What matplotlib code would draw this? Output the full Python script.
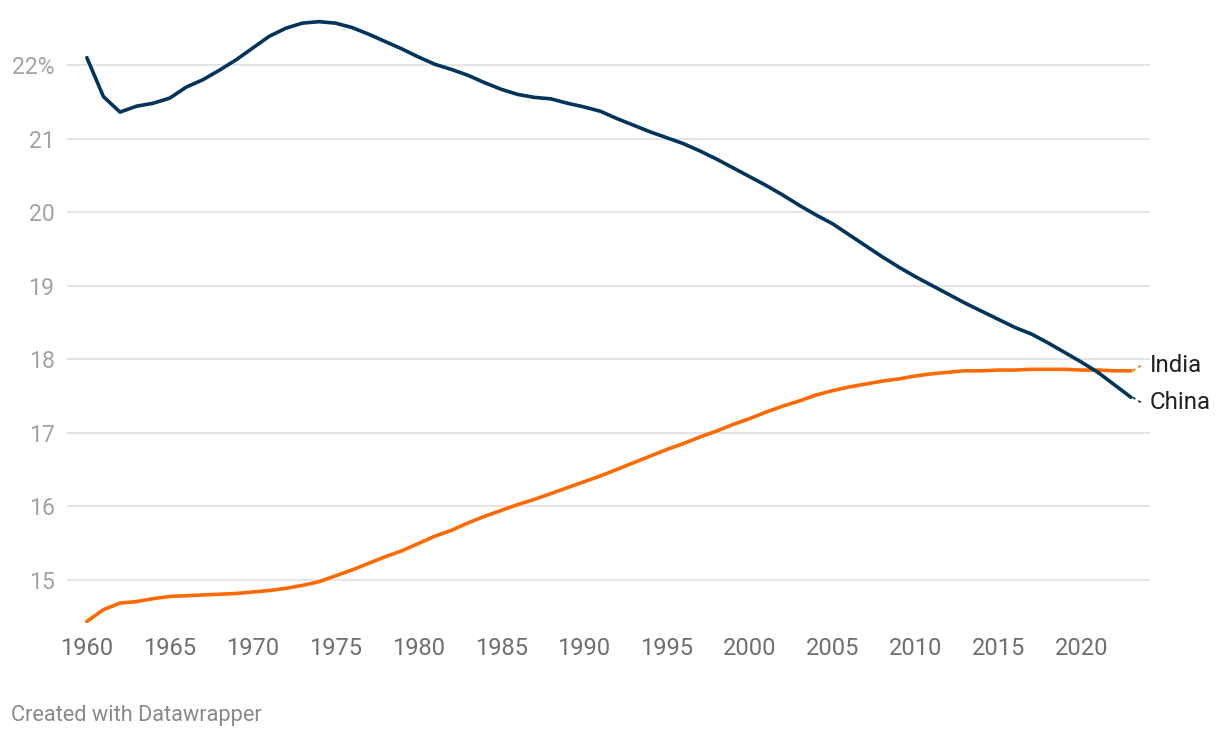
import numpy as np
import matplotlib.pyplot as plt

# share of population (%) by year
years = list(range(1960, 2024))

china = [22.10, 21.57, 21.36, 21.44, 21.48, 21.55, 21.70, 21.80, 21.93, 22.07,
         22.23, 22.39, 22.50, 22.57, 22.59, 22.57, 22.51, 22.42, 22.32, 22.22,
         22.11, 22.01, 21.94, 21.86, 21.76, 21.67, 21.60, 21.56, 21.54, 21.48,
         21.43, 21.37, 21.27, 21.18, 21.09, 21.01, 20.93, 20.83, 20.72, 20.60,
         20.48, 20.36, 20.23, 20.09, 19.96, 19.84, 19.69, 19.54, 19.39, 19.25,
         19.12, 19.00, 18.88, 18.76, 18.65, 18.54, 18.43, 18.34, 18.22, 18.09,
         17.96, 17.82, 17.65, 17.48]

india = [14.43, 14.59, 14.68, 14.70, 14.74, 14.77, 14.78, 14.79, 14.80, 14.81,
         14.83, 14.85, 14.88, 14.92, 14.97, 15.05, 15.13, 15.22, 15.31, 15.39,
         15.49, 15.59, 15.67, 15.77, 15.86, 15.94, 16.02, 16.09, 16.17, 16.25,
         16.33, 16.41, 16.50, 16.59, 16.68, 16.77, 16.85, 16.94, 17.02, 17.11,
         17.19, 17.28, 17.36, 17.43, 17.51, 17.57, 17.62, 17.66, 17.70, 17.73,
         17.77, 17.80, 17.82, 17.84, 17.84, 17.85, 17.85, 17.86, 17.86, 17.86,
         17.85, 17.85, 17.84, 17.84]

y_ticks = [15, 16, 17, 18, 19, 20, 21, 22]
x_ticks = list(range(1960, 2021, 5))

CHINA_COL = '#00345a'
INDIA_COL = '#ff6a00'

plt.rcParams['font.family'] = ['Roboto', 'DejaVu Sans']

fig = plt.figure(figsize=(12.2, 7.38), dpi=100)
ax = fig.add_axes([0.0549, 0.150, 0.8877, 0.8316])

ax.plot(years, india, color=INDIA_COL, lw=2.6, solid_capstyle='round', zorder=3)
ax.plot(years, china, color=CHINA_COL, lw=2.6, solid_capstyle='round', zorder=4)

ax.set_xlim(1958.8, 2024.15)
ax.set_ylim(14.35, 22.7)

# gridlines
ax.set_yticks(y_ticks)
ax.set_yticklabels([str(t) + '%' if t == 22 else str(t) for t in y_ticks])
ax.yaxis.grid(True, color='#e2e2e2', lw=1.3)
ax.set_axisbelow(True)
ax.set_xticks(x_ticks)
ax.tick_params(axis='y', length=0, pad=9, labelsize=16.6, labelcolor='#a3a3a3')
ax.tick_params(axis='x', length=0, pad=7, labelsize=17, labelcolor='#6f6f6f')
for s in ax.spines.values():
    s.set_visible(False)

# direct labels with little dotted connectors
label_y = {'India': 17.91, 'China': 17.41}
for name, vals, col in [('India', india, INDIA_COL), ('China', china, CHINA_COL)]:
    ax.plot([years[-1] + 0.1, years[-1] + 0.6], [vals[-1], label_y[name]],
            color=col, lw=1.2, ls=(0, (2, 2)), clip_on=False)
    ax.text(2024.15, label_y[name], name, fontsize=17.3, color='#222222',
            va='center', ha='left', clip_on=False)

fig.text(0.009, 0.031, 'Created with Datawrapper', fontsize=15.7, color='#8a8a8a',
         ha='left', va='center')

fig.savefig('out.png', dpi=100)
